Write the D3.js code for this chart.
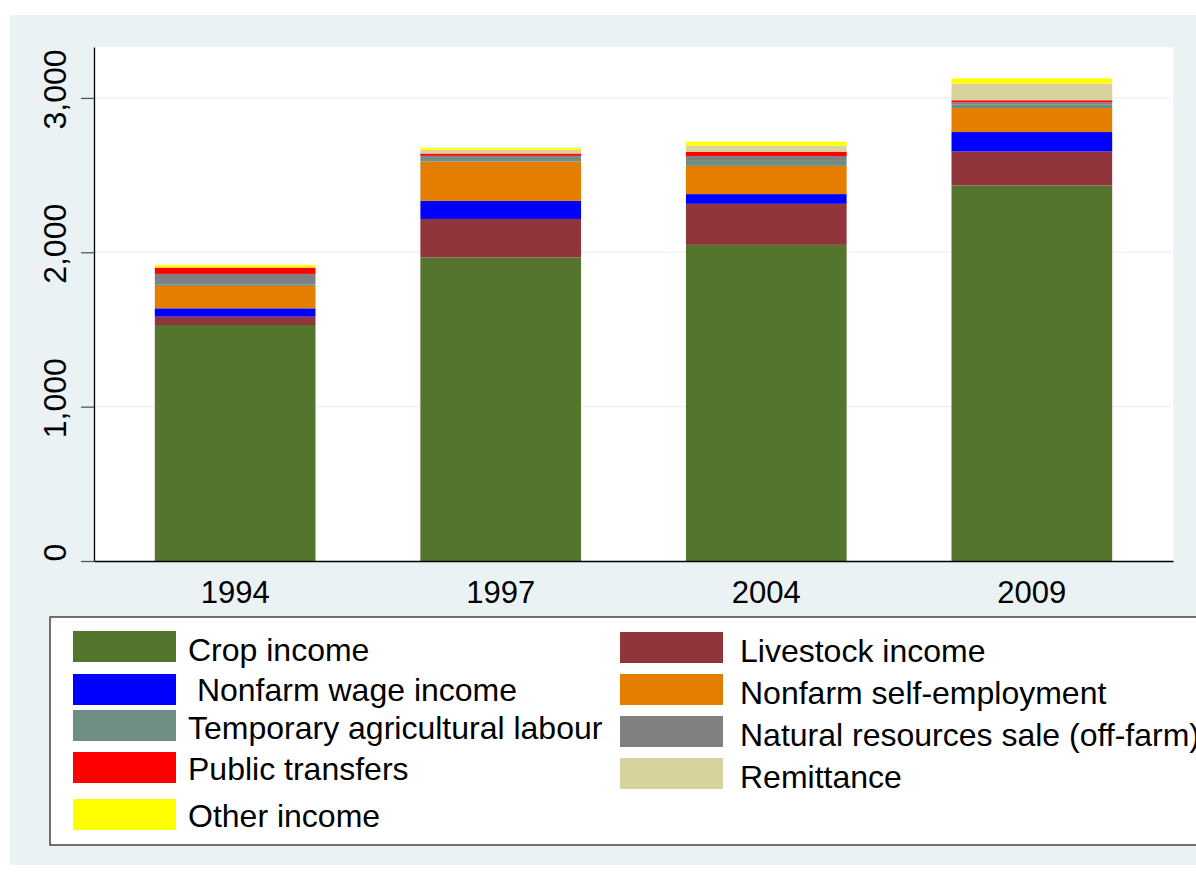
<!DOCTYPE html>
<html>
<head>
<meta charset="utf-8">
<script src="https://cdn.jsdelivr.net/npm/d3@7"></script>
<style>
  html, body { margin: 0; padding: 0; background: #ffffff; }
  svg { display: block; font-family: "Liberation Sans", Arial, sans-serif; }
</style>
</head>
<body>
<svg id="chart" width="1196" height="878"></svg>
<script>
// ---- data ----
const years = ["1994", "1997", "2004", "2009"];
const cropIncome        = [1529, 1967, 2048, 2433];
const livestockIncome   = [54, 249, 266, 220];
const nonfarmWage       = [54, 117, 63, 126];
const nonfarmSelf       = [145, 255, 183, 156];
const tempAgLabour      = [11, 29, 32, 24];
const naturalResources  = [67, 8, 32, 13];
const publicTransfers   = [41, 15, 28, 13];
const remittance        = [0, 24, 39, 108];
const otherIncome       = [17, 13, 26, 34];

const seriesNames = [
  "Crop income", "Livestock income", " Nonfarm wage income", "Nonfarm self-employment",
  "Temporary agricultural labour", "Natural resources sale (off-farm)",
  "Public transfers", "Remittance", "Other income"
];
const seriesValues = [cropIncome, livestockIncome, nonfarmWage, nonfarmSelf,
  tempAgLabour, naturalResources, publicTransfers, remittance, otherIncome];
const seriesColors = ["#55752f", "#90353b", "#0000ff", "#e37e00",
  "#6e8e84", "#808080", "#ff0000", "#d8d29d", "#ffff00"];
const yTicks = [0, 1000, 2000, 3000];

// ---- build table ----
const keys = seriesNames.map((d, i) => "s" + i);
const table = years.map((y, j) => {
  const row = { year: y };
  keys.forEach((k, i) => row[k] = seriesValues[i][j]);
  return row;
});
const stacked = d3.stack().keys(keys)(table);

// ---- layout ----
const svg = d3.select("#chart");
const plot = { left: 94, right: 1173, top: 47, bottom: 561 };

svg.append("rect").attr("x", 10).attr("y", 15).attr("width", 1186).attr("height", 850)
  .attr("fill", "#eaf2f3");
svg.append("rect").attr("x", plot.left).attr("y", plot.top)
  .attr("width", plot.right - plot.left).attr("height", plot.bottom - plot.top)
  .attr("fill", "#ffffff");

const x = d3.scaleBand().domain(years).range([plot.left, plot.right])
  .paddingInner(0.395).paddingOuter(0.229);
const y = d3.scaleLinear().domain([0, 3330]).range([plot.bottom, plot.top]);

// gridlines
svg.append("g").selectAll("line").data(yTicks.filter(d => d > 0)).join("line")
  .attr("x1", plot.left + 1).attr("x2", plot.right - 2)
  .attr("y1", d => y(d)).attr("y2", d => y(d))
  .attr("stroke", "#eaf2f3").attr("stroke-width", 1.2);

// bars
svg.append("g").selectAll("g").data(stacked).join("g")
  .attr("fill", (d, i) => seriesColors[i])
  .selectAll("rect").data(d => d).join("rect")
  .attr("x", d => x(d.data.year))
  .attr("width", x.bandwidth())
  .attr("y", d => y(d[1]))
  .attr("height", d => Math.max(0, y(d[0]) - y(d[1])));

// y axis
const yAxis = svg.append("g").attr("transform", `translate(${plot.left},0)`)
  .call(d3.axisLeft(y).tickValues(yTicks).tickFormat(d3.format(",")).tickSize(13).tickSizeOuter(0));
yAxis.select(".domain").attr("stroke", "#000").attr("stroke-width", 1.3);
yAxis.selectAll(".tick line").attr("stroke", "#555").attr("stroke-width", 1.3);
yAxis.selectAll(".tick text")
  .attr("transform", "rotate(-90)")
  .attr("x", 9).attr("y", -28).attr("dy", 0)
  .attr("text-anchor", "middle")
  .attr("font-size", 32).attr("fill", "#000")
  .attr("font-family", "Liberation Sans, Arial, sans-serif");

// x axis
const xAxis = svg.append("g").attr("transform", `translate(0,${plot.bottom})`)
  .call(d3.axisBottom(x).tickSize(0).tickSizeOuter(0));
xAxis.select(".domain").attr("stroke", "#000").attr("stroke-width", 1.5);
xAxis.selectAll(".tick text")
  .attr("y", 42).attr("dy", 0)
  .attr("font-size", 31).attr("fill", "#000")
  .attr("font-family", "Liberation Sans, Arial, sans-serif");

// legend
svg.append("rect").attr("x", 50).attr("y", 617).attr("width", 1200).attr("height", 228)
  .attr("fill", "#ffffff").attr("stroke", "#444").attr("stroke-width", 1.5);

const legendPos = [
  { sx: 73, sy: 631, tx: 188, ty: 661 },   // Crop
  { sx: 620, sy: 632, tx: 740, ty: 662 },  // Livestock
  { sx: 73, sy: 674, tx: 188, ty: 701 },   // Nonfarm wage
  { sx: 620, sy: 674, tx: 740, ty: 704 },  // Nonfarm self
  { sx: 73, sy: 710, tx: 188, ty: 739 },   // Temp ag
  { sx: 620, sy: 716, tx: 740, ty: 746 },  // Natural resources
  { sx: 73, sy: 752, tx: 188, ty: 780 },   // Public transfers
  { sx: 620, sy: 758, tx: 740, ty: 788 },  // Remittance
  { sx: 73, sy: 799, tx: 188, ty: 827 }    // Other
];
const lg = svg.append("g").selectAll("g").data(seriesNames).join("g");
lg.append("rect")
  .attr("x", (d, i) => legendPos[i].sx).attr("y", (d, i) => legendPos[i].sy)
  .attr("width", 103).attr("height", 31)
  .attr("fill", (d, i) => seriesColors[i]);
lg.append("text")
  .attr("x", (d, i) => legendPos[i].tx).attr("y", (d, i) => legendPos[i].ty)
  .attr("font-size", 32).attr("fill", "#000")
  .style("white-space", "pre")
  .text(d => d);
</script>
</body>
</html>
